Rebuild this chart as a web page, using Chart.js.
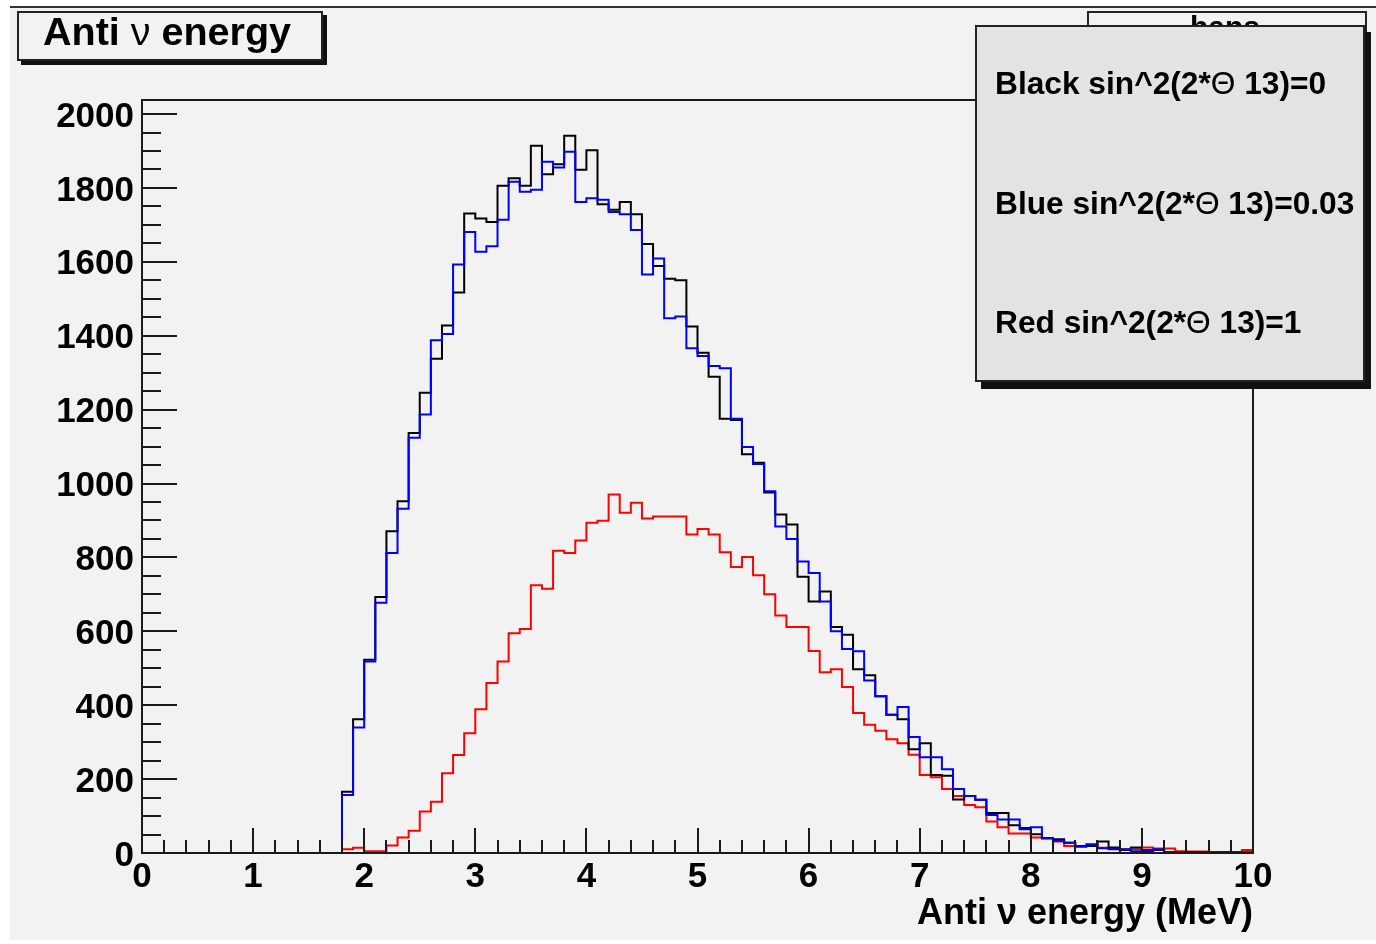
<!DOCTYPE html>
<html>
<head>
<meta charset="utf-8">
<script src="https://cdn.jsdelivr.net/npm/chart.js@4.4.1/dist/chart.umd.min.js"></script>
<style>
html,body{margin:0;padding:0;background:#fff;}
#wrap{position:relative;width:1376px;height:944px;overflow:hidden;background:#fff;}
#pad{position:absolute;left:10px;top:6px;width:1366px;height:932px;background:#f2f2f2;border-top:2px solid #333;}
#chart{position:absolute;left:0;top:0;}
.bx{position:absolute;box-sizing:border-box;border:2px solid #222;}
.tx{position:absolute;white-space:nowrap;font-family:"Liberation Sans",Arial,sans-serif;font-weight:bold;color:#000;}
.sym{font-weight:normal;}
</style>
</head>
<body>
<div id="wrap">
  <div id="pad"></div>
  <canvas id="chart" width="1376" height="944"></canvas>
  <!-- partially hidden stats box -->
  <div class="bx" style="left:1087px;top:11px;width:280px;height:50px;background:#f2f2f2;"></div>
  <div class="tx" style="left:1190px;top:12px;font-size:30px;line-height:30px;">hans</div>
  <!-- title box -->
  <div class="bx" style="left:17px;top:11px;width:306px;height:50px;background:#f2f2f2;box-shadow:4px 4px 0 #111;"></div>
  <div class="tx" style="left:43px;top:12px;font-size:39.5px;line-height:39.5px;">Anti <span class="sym">ν</span> energy</div>
  <!-- legend box -->
  <div class="bx" style="left:975px;top:25px;width:390px;height:357px;background:#e3e3e3;box-shadow:6px 7px 0 #111;"></div>
  <div class="tx" style="left:995px;top:68px;font-size:31.7px;line-height:31.7px;">Black sin^2(2*<span class="sym">Θ</span> 13)=0</div>
  <div class="tx" style="left:995px;top:188px;font-size:31.7px;line-height:31.7px;">Blue sin^2(2*<span class="sym">Θ</span> 13)=0.03</div>
  <div class="tx" style="left:995px;top:307px;font-size:31.7px;line-height:31.7px;">Red sin^2(2*<span class="sym">Θ</span> 13)=1</div>
</div>
<script>
// ---- histogram definition: 100 bins from 0 to 10 MeV ----
const nBins = 100;
const xMin = 0;
const xMax = 10;
const binLowEdges = Array.from({length: nBins + 1}, (_, i) => +(xMin + i * (xMax - xMin) / nBins).toFixed(2));

// tick labels
const xTickValues = [0, 1, 2, 3, 4, 5, 6, 7, 8, 9, 10];
const yTickValues = [0, 200, 400, 600, 800, 1000, 1200, 1400, 1600, 1800, 2000];

// Black: sin^2(2*theta13)=0
const blackCounts = [
  0,0,0,0,0,0,0,0,0,0,
  0,0,0,0,0,0,0,0,166,362,
  523,693,871,952,1137,1246,1338,1428,1517,1731,
  1717,1708,1806,1826,1806,1914,1837,1864,1941,1849,
  1902,1756,1741,1762,1729,1648,1589,1554,1550,1425,
  1354,1289,1175,1172,1079,1056,976,916,889,748,
  681,708,612,591,497,481,424,374,362,281,
  297,211,209,145,154,144,108,108,75,68,
  51,40,37,28,19,19,31,15,8,15,
  5,8,3,3,2,2,1,2,1,1
];

// Blue: sin^2(2*theta13)=0.03
const blueCounts = [
  0,0,0,0,0,0,0,0,0,0,
  0,0,0,0,0,0,0,0,157,340,
  518,677,812,932,1124,1187,1388,1405,1593,1681,
  1627,1642,1714,1817,1790,1795,1871,1855,1898,1762,
  1772,1768,1735,1729,1686,1566,1609,1447,1452,1366,
  1345,1318,1312,1175,1099,1053,979,884,850,789,
  758,681,600,552,546,467,424,374,395,314,
  259,259,227,173,154,144,103,91,91,64,
  70,40,33,28,17,24,13,10,10,5,
  8,10,3,3,3,2,2,3,2,2
];

// Red: sin^2(2*theta13)=1
const redCounts = [
  0,0,0,0,0,0,0,0,0,0,
  0,0,0,0,0,0,0,0,10,14,
  5,5,20,42,60,112,139,216,265,324,
  389,460,518,595,606,725,715,818,812,846,
  894,899,970,921,948,905,911,911,911,862,
  877,862,814,774,801,752,700,643,612,612,
  547,489,497,449,379,347,331,308,297,266,
  211,205,173,154,130,124,85,70,53,53,
  42,40,31,19,18,19,14,12,10,10,
  15,12,12,5,4,4,3,2,3,8
];

function histPoints(counts) {
  const pts = counts.map((c, i) => ({x: binLowEdges[i], y: c}));
  pts.push({x: binLowEdges[nBins], y: counts[nBins - 1]});
  return pts;
}

const FONT = '"Liberation Sans", Arial, sans-serif';

const rootTicks = {
  id: 'rootTicks',
  afterDatasetsDraw(chart) {
    const {ctx, chartArea: a, scales: {x, y}} = chart;
    ctx.save();
    ctx.strokeStyle = '#1a1a1a';
    ctx.lineWidth = 2;
    ctx.beginPath();
    // x ticks every 0.2, long at integers
    for (let k = 0; k <= 50; k++) {
      const v = k * 0.2;
      const px = Math.round(x.getPixelForValue(v));
      const len = (k % 5 === 0) ? 25 : 13;
      ctx.moveTo(px, a.bottom);
      ctx.lineTo(px, a.bottom - len);
    }
    // y ticks every 50, long at 200
    for (let k = 0; k <= 40; k++) {
      const v = k * 50;
      const py = Math.round(y.getPixelForValue(v));
      const len = (k % 4 === 0) ? 35 : 19;
      ctx.moveTo(a.left, py);
      ctx.lineTo(a.left + len, py);
    }
    ctx.stroke();
    ctx.strokeRect(a.left, a.top, a.right - a.left, a.bottom - a.top);
    ctx.restore();
  }
};

new Chart(document.getElementById('chart'), {
  type: 'line',
  data: {
    datasets: [
      {label: 'Blue sin^2(2*Θ 13)=0.03', data: histPoints(blueCounts), borderColor: '#0000ff', order: 0},
      {label: 'Black sin^2(2*Θ 13)=0', data: histPoints(blackCounts), borderColor: '#000000', order: 1},
      {label: 'Red sin^2(2*Θ 13)=1', data: histPoints(redCounts), borderColor: '#ff0000', order: 2}
    ].map(d => Object.assign(d, {stepped: true, borderWidth: 2, pointRadius: 0, fill: false, tension: 0}))
  },
  options: {
    responsive: false,
    animation: false,
    events: [],
    layout: {padding: {left: 0, top: 100, right: 123, bottom: 0}},
    plugins: {legend: {display: false}, tooltip: {enabled: false}, title: {display: false}},
    scales: {
      x: {
        type: 'linear', min: xMin, max: xMax,
        afterFit: s => { s.height = 91; },
        afterBuildTicks: s => { s.ticks = xTickValues.map(v => ({value: v})); },
        grid: {display: false, drawTicks: false},
        border: {display: false},
        ticks: {padding: 3, color: '#000', font: {family: FONT, size: 35, weight: 'bold'}, maxRotation: 0, autoSkip: false, callback: v => String(v)},
        title: {display: true, text: 'Anti ν energy (MeV)', align: 'end', color: '#000', padding: {top: 0, bottom: 8}, font: {family: FONT, size: 36, weight: 'bold'}}
      },
      y: {
        type: 'linear', min: 0, max: 2038,
        afterFit: s => { s.width = 142; },
        afterBuildTicks: s => { s.ticks = yTickValues.map(v => ({value: v})); },
        grid: {display: false, drawTicks: false},
        border: {display: false},
        ticks: {padding: 8, labelOffset: 3, color: '#000', font: {family: FONT, size: 35, weight: 'bold'}, autoSkip: false, callback: v => String(v)}
      }
    }
  },
  plugins: [rootTicks]
});
</script>
</body>
</html>
